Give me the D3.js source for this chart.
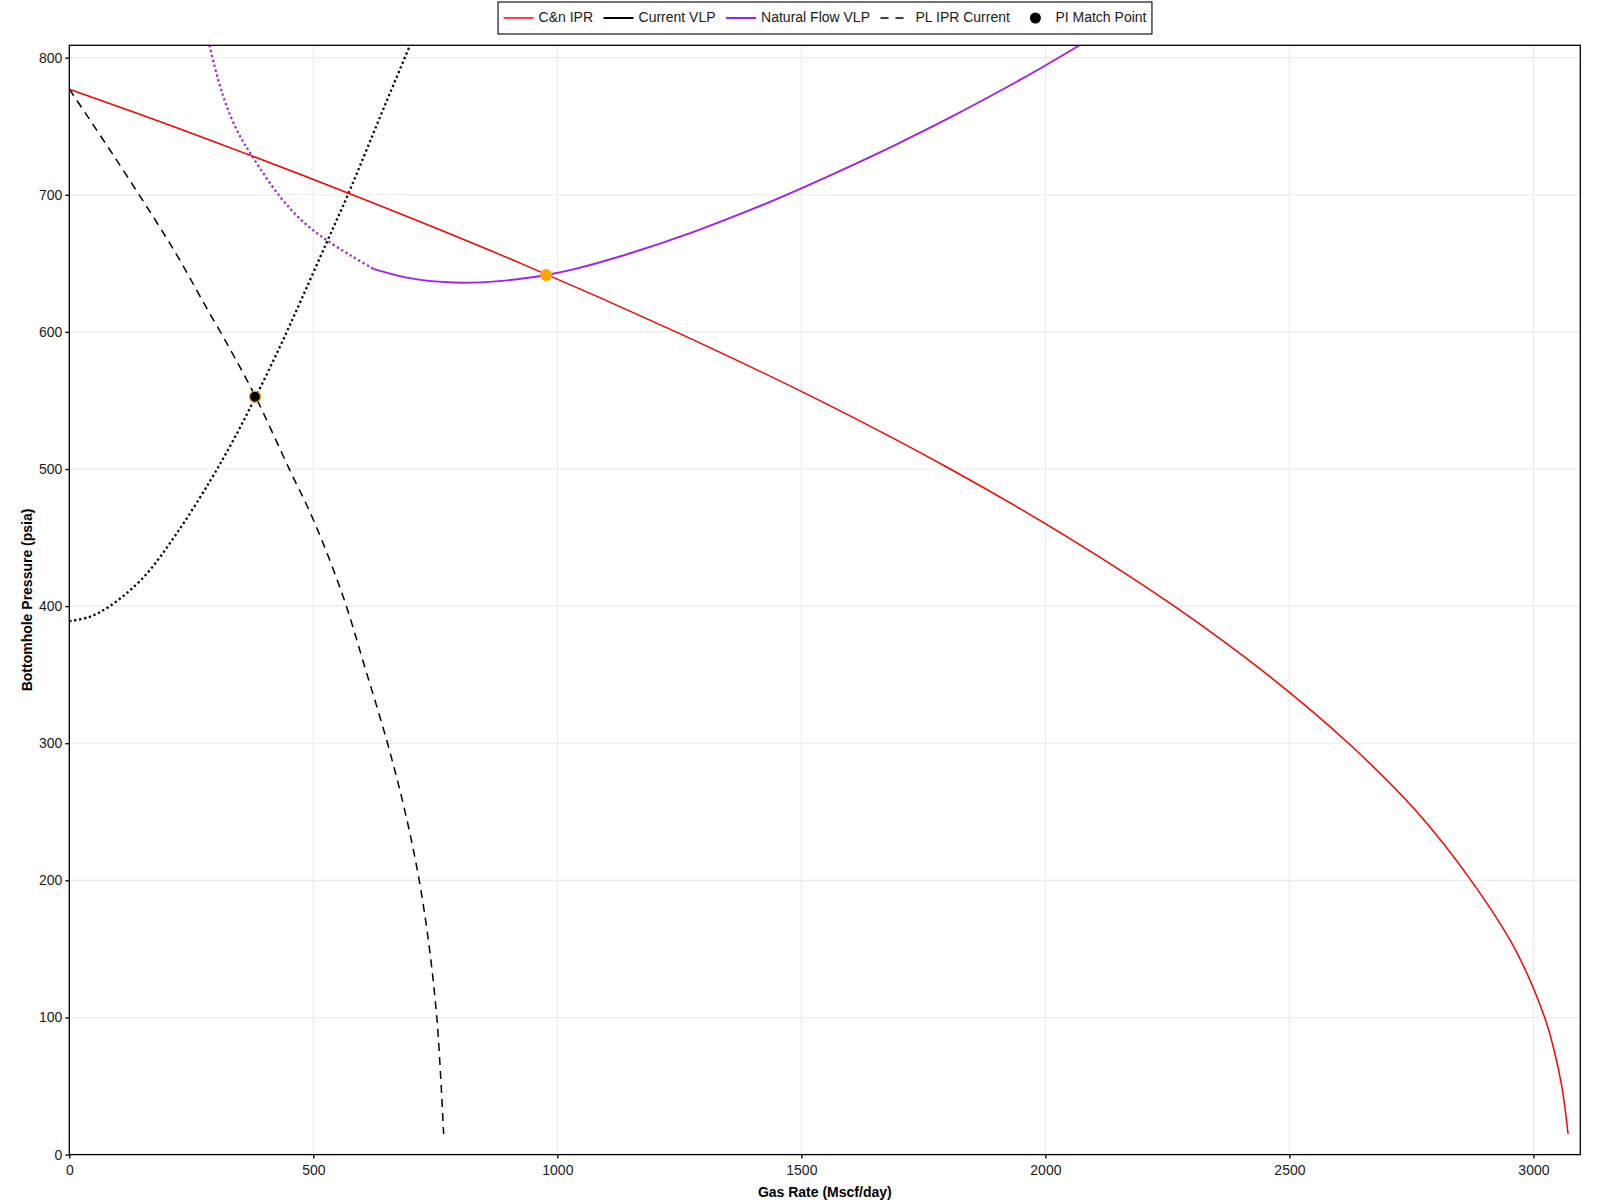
<!DOCTYPE html>
<html>
<head>
<meta charset="utf-8">
<script src="https://cdn.jsdelivr.net/npm/d3@7"></script>
<style>
  html, body { margin: 0; padding: 0; background: #fff; }
  svg { display: block; font-family: "Liberation Sans", Arial, sans-serif; }
</style>
</head>
<body>
<svg id="chart" width="1600" height="1200"></svg>
<script>
// ---------------- DATA ----------------
const xTicks = [0, 500, 1000, 1500, 2000, 2500, 3000];
const yTicks = [0, 100, 200, 300, 400, 500, 600, 700, 800];

// C&n IPR (red)
const ipr_q = [0, 227, 580, 925, 1243, 1537, 1805, 2047, 2264, 2455, 2621, 2761, 2872, 2962, 3023, 3043, 3058, 3071];
const ipr_p = [777, 748, 700, 650, 600, 550, 500, 450, 400, 350, 300, 250, 200, 150, 100, 75, 50, 15];

// PL IPR Current (black dashed)
const pl_q = [0, 90, 186, 227, 271, 330, 381, 452, 500, 561, 606, 652, 688, 717, 738, 753, 762, 767];
const pl_p = [777, 729, 676, 652, 624, 587, 553, 499, 463, 407, 355, 300, 250, 200, 150, 100, 50, 15];

// Current VLP (black dotted)
const cur_q = [0, 40, 83, 152, 220, 288, 336, 381, 430, 476, 527, 572, 637, 664, 698];
const cur_p = [389, 392, 400, 421, 453, 491, 521, 552, 588, 624, 665, 701, 757, 780, 809];

// Natural Flow VLP (purple): unstable (dotted) part, then stable (solid) part
const nat_unstable_q = [287, 305, 322, 345, 374, 432, 480, 527, 580, 623];
const nat_unstable_p = [809, 784, 765, 746, 728.5, 698.5, 680, 667, 655, 646];
const nat_stable_q = [623, 700, 787, 880, 977, 1037, 1146, 1278, 1403, 1500, 1586, 1695, 1805, 1915, 2000, 2070];
const nat_stable_p = [646, 639, 636, 637, 641.5, 646, 657, 672.8, 690, 704.7, 718.5, 736.8, 756.4, 777.3, 794.3, 809];

// Points
const opPoint = { q: 977, p: 641.5 };        // natural flow operating point (orange)
const piMatch = { q: 380.5, p: 552.7 };      // PI match point

const legendLabels = ["C&n IPR", "Current VLP", "Natural Flow VLP", "PL IPR Current", "PI Match Point"];

// ---------------- LAYOUT ----------------
const svg = d3.select("#chart");
const M = { left: 69.3, right: 1580.3, top: 45.3, bottom: 1154.6 };
const x = d3.scaleLinear().domain([0, 3096]).range([M.left, M.right]);
const y = d3.scaleLinear().domain([0, 809]).range([M.bottom, M.top]);

const zip = (a, b) => a.map((v, i) => [v, b[i]]);

// grid
const grid = svg.append("g");
grid.selectAll("line.gx").data(xTicks).enter().append("line")
  .attr("x1", d => x(d)).attr("x2", d => x(d))
  .attr("y1", M.top).attr("y2", M.bottom)
  .attr("stroke", "#ebebeb").attr("stroke-width", 1.1);
grid.selectAll("line.gy").data(yTicks).enter().append("line")
  .attr("x1", M.left).attr("x2", M.right)
  .attr("y1", d => y(d)).attr("y2", d => y(d))
  .attr("stroke", "#ebebeb").attr("stroke-width", 1.1);

// clip
svg.append("clipPath").attr("id", "clip").append("rect")
  .attr("x", M.left).attr("y", M.top)
  .attr("width", M.right - M.left).attr("height", M.bottom - M.top);

const line = d3.line().x(d => x(d[0])).y(d => y(d[1])).curve(d3.curveCatmullRom.alpha(0.5));
const plot = svg.append("g").attr("clip-path", "url(#clip)");

// PL IPR dashed
plot.append("path").datum(zip(pl_q, pl_p)).attr("d", line)
  .attr("fill", "none").attr("stroke", "#000").attr("stroke-width", 1.5)
  .attr("stroke-dasharray", "8,6");
// Current VLP dotted
plot.append("path").datum(zip(cur_q, cur_p)).attr("d", line)
  .attr("fill", "none").attr("stroke", "#000").attr("stroke-width", 2.3)
  .attr("stroke-dasharray", "2.2,2.8");
// Natural flow unstable (dotted)
plot.append("path").datum(zip(nat_unstable_q, nat_unstable_p)).attr("d", line)
  .attr("fill", "none").attr("stroke", "#a020f0").attr("stroke-width", 2.3)
  .attr("stroke-dasharray", "2.2,2.8");
// Natural flow stable (solid)
plot.append("path").datum(zip(nat_stable_q, nat_stable_p)).attr("d", line)
  .attr("fill", "none").attr("stroke", "#a020f0").attr("stroke-width", 1.9);
// C&n IPR
plot.append("path").datum(zip(ipr_q, ipr_p)).attr("d", line)
  .attr("fill", "none").attr("stroke", "#ff0000").attr("stroke-width", 1.5);

// points
plot.append("circle").attr("cx", x(opPoint.q)).attr("cy", y(opPoint.p)).attr("r", 6)
  .attr("fill", "#ffa500");
plot.append("circle").attr("cx", x(piMatch.q)).attr("cy", y(piMatch.p)).attr("r", 5.5)
  .attr("fill", "#000").attr("stroke", "#ffa500").attr("stroke-width", 1.2);

// panel border
svg.append("rect").attr("x", M.left).attr("y", M.top)
  .attr("width", M.right - M.left).attr("height", M.bottom - M.top)
  .attr("fill", "none").attr("stroke", "#000").attr("stroke-width", 1.3);

// axes
const xAxis = d3.axisBottom(x).tickValues(xTicks).tickSize(4).tickPadding(6).tickFormat(d3.format("d"));
const yAxis = d3.axisLeft(y).tickValues(yTicks).tickSize(4).tickPadding(3).tickFormat(d3.format("d"));
const gx = svg.append("g").attr("transform", `translate(0,${M.bottom})`).call(xAxis);
const gy = svg.append("g").attr("transform", `translate(${M.left},0)`).call(yAxis);
[gx, gy].forEach(g => {
  g.select(".domain").remove();
  g.selectAll(".tick line").attr("stroke", "#000").attr("stroke-width", 1.3);
  g.selectAll(".tick text").attr("fill", "#1a1a1a")
    .style("font-family", "'Liberation Sans', Arial, sans-serif").style("font-size", "14px");
});

// axis titles
svg.append("text").attr("x", (M.left + M.right) / 2).attr("y", 1197)
  .attr("text-anchor", "middle").style("font-size", "14px").style("font-weight", "bold")
  .text("Gas Rate (Mscf/day)");
svg.append("text").attr("transform", `translate(32,${(M.top + M.bottom) / 2}) rotate(-90)`)
  .attr("text-anchor", "middle").style("font-size", "14px").style("font-weight", "bold")
  .text("Bottomhole Pressure (psia)");

// legend
const leg = svg.append("g");
const keyW = 30, keyGap = 5, itemGap = 10.5, pad = 5.5;
const items = [];
let cx = 0;
legendLabels.forEach((lab, i) => {
  const t = leg.append("text").attr("y", 18).attr("dominant-baseline", "middle")
    .style("font-size", "14px").attr("fill", "#1a1a1a").text(lab);
  const w = t.node().getComputedTextLength();
  items.push({ lab, t, w, x0: cx });
  cx += keyW + keyGap + w + (i < legendLabels.length - 1 ? itemGap : 0);
});
const totalW = cx + 2 * pad;
const boxX = 825 - totalW / 2;
leg.insert("rect", ":first-child").attr("x", boxX).attr("y", 2).attr("width", totalW).attr("height", 32)
  .attr("fill", "#fff").attr("stroke", "#000").attr("stroke-width", 1.1);
items.forEach((it, i) => {
  const kx = boxX + pad + it.x0;
  it.t.attr("x", kx + keyW + keyGap);
  const ky = 18;
  if (i === 0) leg.append("line").attr("x1", kx).attr("x2", kx + keyW).attr("y1", ky).attr("y2", ky).attr("stroke", "#ff0000").attr("stroke-width", 1.5);
  if (i === 1) leg.append("line").attr("x1", kx).attr("x2", kx + keyW).attr("y1", ky).attr("y2", ky).attr("stroke", "#000").attr("stroke-width", 2);
  if (i === 2) leg.append("line").attr("x1", kx).attr("x2", kx + keyW).attr("y1", ky).attr("y2", ky).attr("stroke", "#a020f0").attr("stroke-width", 2);
  if (i === 3) leg.append("line").attr("x1", kx).attr("x2", kx + keyW).attr("y1", ky).attr("y2", ky).attr("stroke", "#000").attr("stroke-width", 1.5).attr("stroke-dasharray", "8,7");
  if (i === 4) leg.append("circle").attr("cx", kx + keyW / 2).attr("cy", ky).attr("r", 5.5).attr("fill", "#000");
});
</script>
</body>
</html>
